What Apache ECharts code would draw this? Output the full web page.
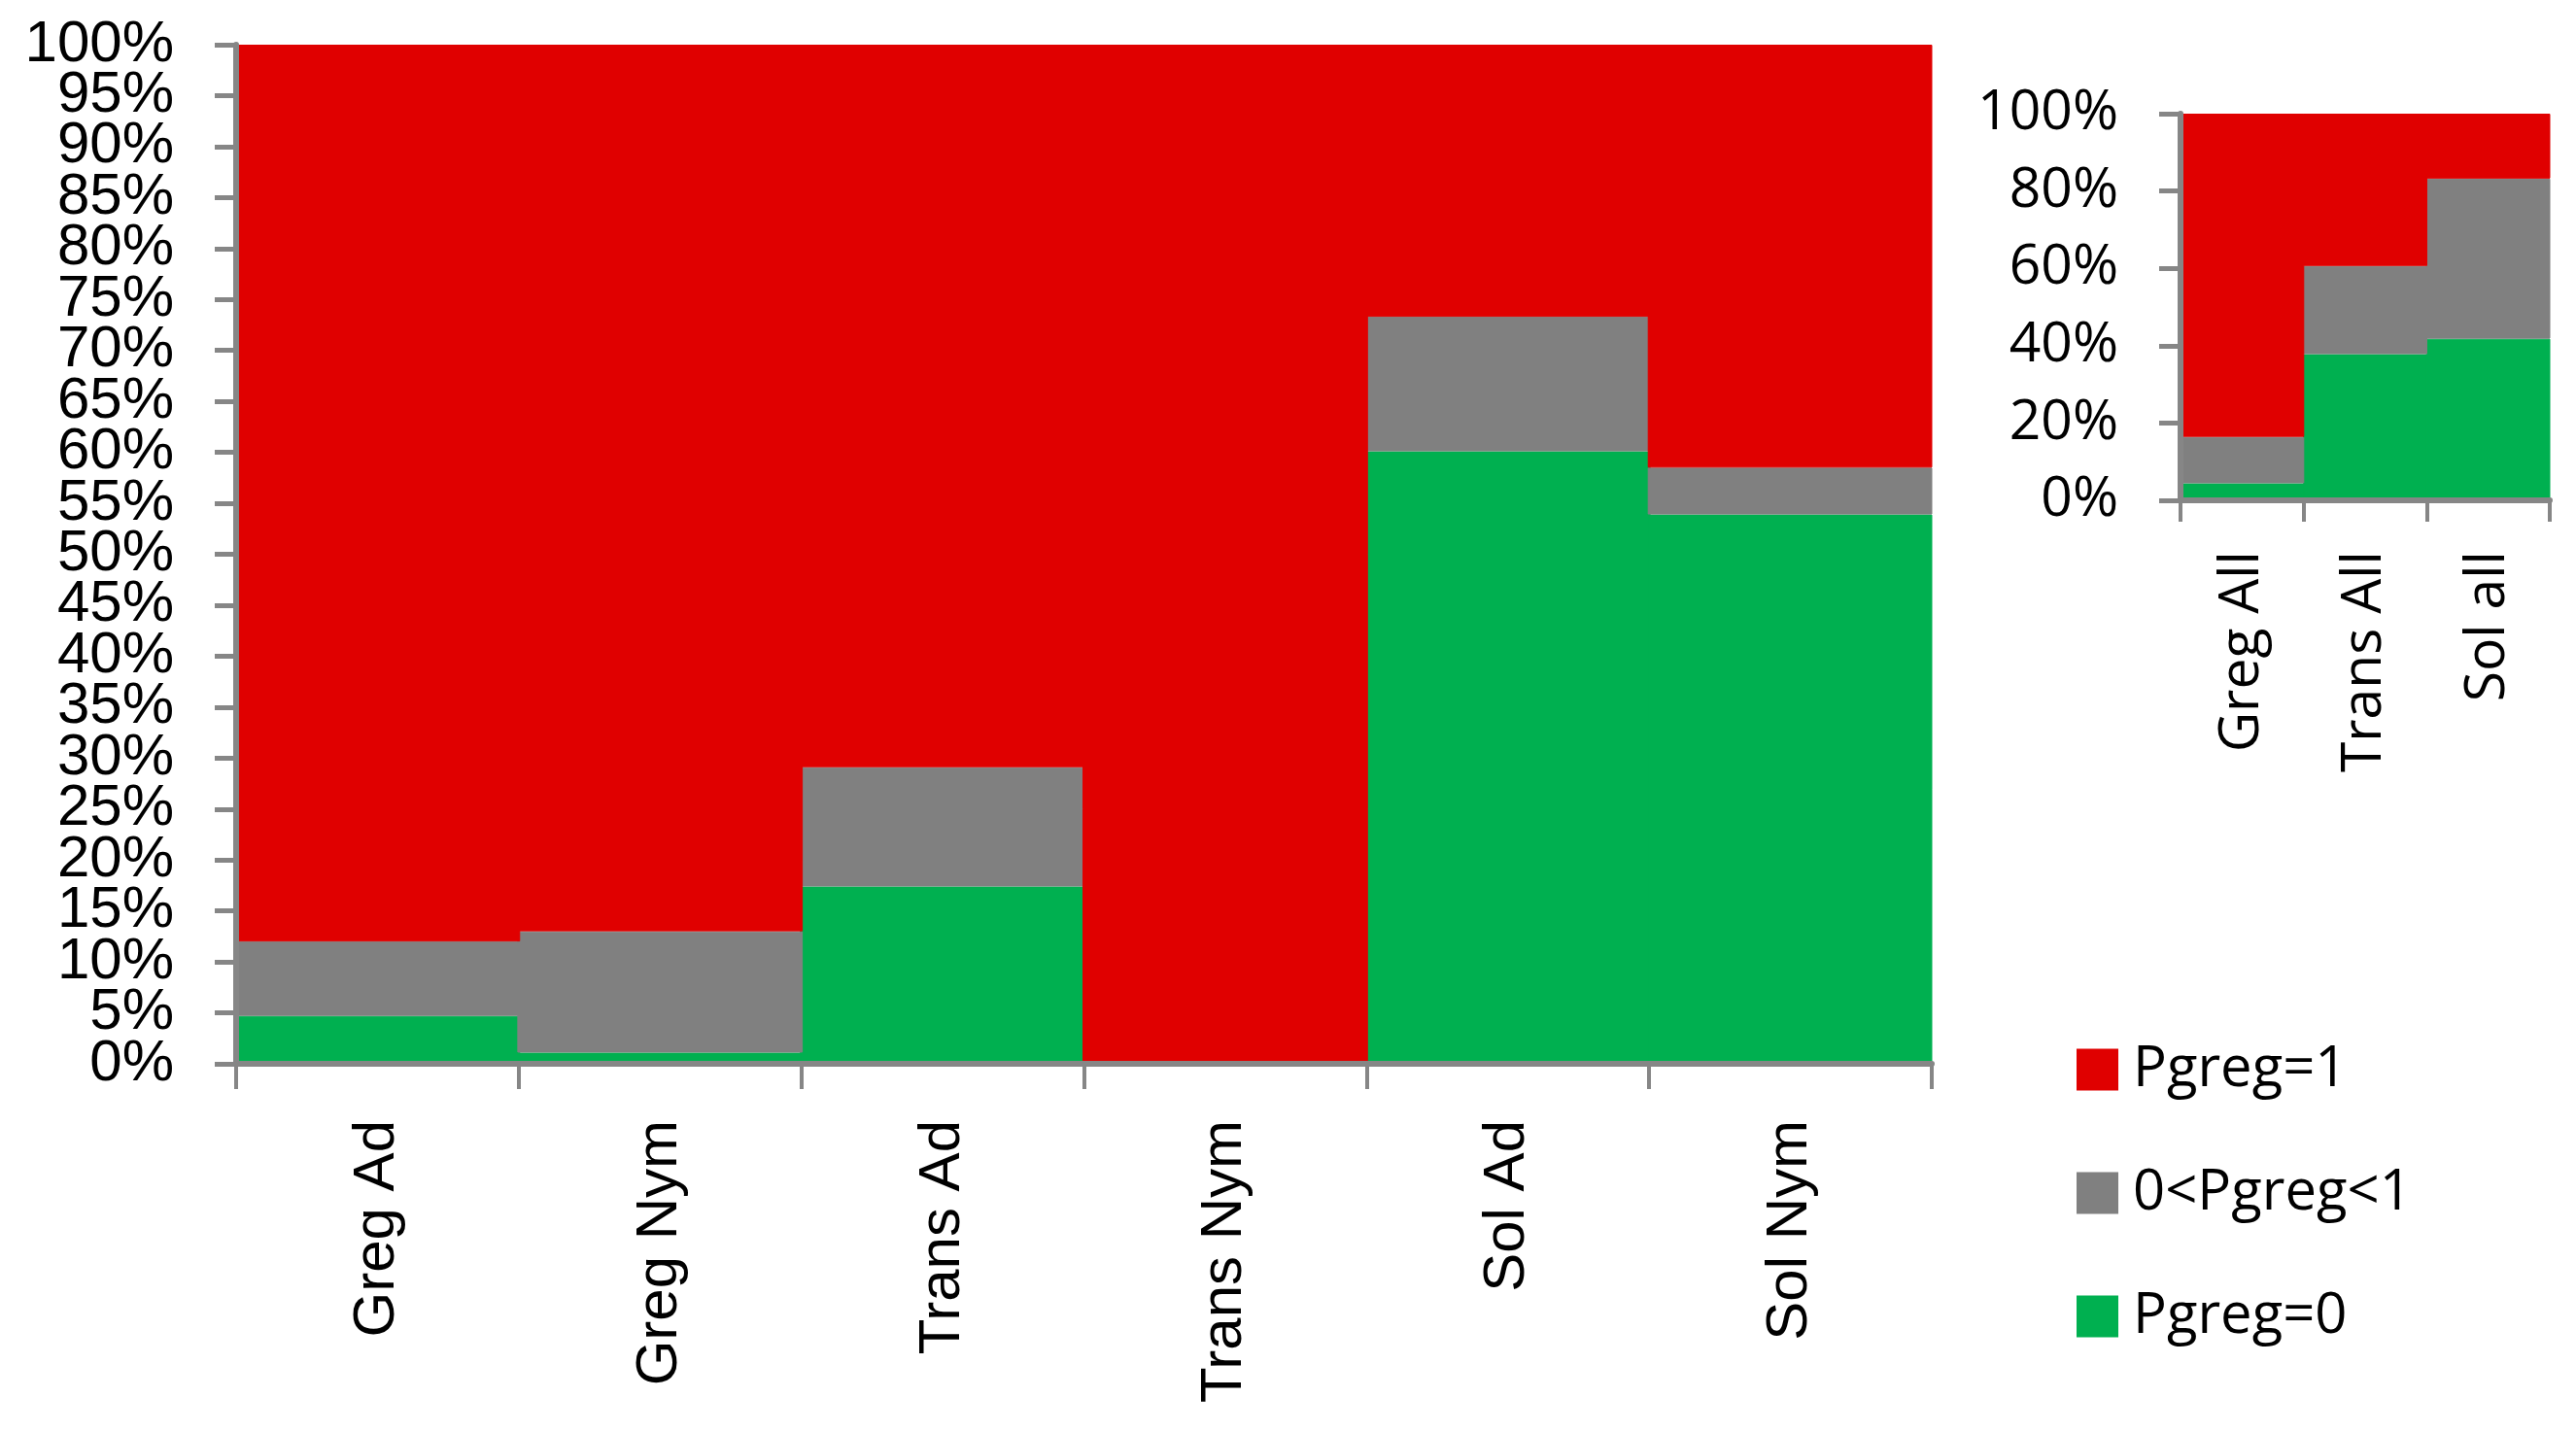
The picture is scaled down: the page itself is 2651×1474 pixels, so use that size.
<!DOCTYPE html>
<html>
<head>
<meta charset="utf-8">
<title>Pgreg</title>
<script src="https://cdn.jsdelivr.net/npm/echarts@6/dist/echarts.min.js"></script>
<style>
  html, body { margin: 0; padding: 0; background: #fff; }
  #chart { width: 2651px; height: 1474px; }
</style>
</head>
<body>
<div id="chart"></div>
<script>
// main chart
var categories = ['Greg Ad', 'Greg Nym', 'Trans Ad', 'Trans Nym', 'Sol Ad', 'Sol Nym']
var pgreg0 = [4.7, 1.1, 17.4, 0, 60.1, 53.9]
var pgregMid = [7.3, 11.9, 11.7, 0, 13.2, 4.6]
var pgreg1 = [88.0, 87.0, 70.9, 100, 26.7, 41.5]

// small chart on the right
var insetCategories = ['Greg All', 'Trans All', 'Sol all']
var insetPgreg0 = [4.4, 37.8, 41.8]
var insetPgregMid = [12.0, 22.8, 41.4]
var insetPgreg1 = [83.6, 39.4, 16.8]

var names = ['Pgreg=1', '0<Pgreg<1', 'Pgreg=0']
var colors = { 'Pgreg=1': '#e00000', '0<Pgreg<1': '#808080', 'Pgreg=0': '#00b050' }
var axisGray = '#868686'

var chart = echarts.init(document.getElementById('chart'))

function bar(name, data, xIdx, yIdx, stack) {
  return {
    name: name,
    type: 'bar',
    stack: stack,
    xAxisIndex: xIdx,
    yAxisIndex: yIdx,
    barWidth: '101%',
    color: colors[name],
    itemStyle: { color: colors[name], borderColor: colors[name], borderWidth: 1 },
    emphasis: { disabled: true },
    data: data
  }
}

// main y axis: labels are crowded, so the 10s and the 5s go on two axes
// (otherwise echarts drops 5% and 95%)
function mainY(show, odd) {
  return {
    gridIndex: 0,
    type: 'value',
    position: 'left',
    offset: 0,
    min: 0,
    max: 100,
    interval: 5,
    z: 5,
    axisLine: { show: show, lineStyle: { color: axisGray, width: 6 } },
    axisTick: { show: show, inside: false, length: 22, lineStyle: { color: axisGray, width: 5 } },
    splitLine: { show: false },
    axisLabel: {
      formatter: function (v) {
        return (v % 10 === 0) !== odd ? v + '%' : ''
      },
      margin: 64,
      showMinLabel: true,
      showMaxLabel: true,
      color: '#000',
      fontFamily: 'Liberation Sans',
      fontSize: 60
    }
  }
}

var option = {
  backgroundColor: '#fff',
  animation: false,
  legend: {
    orient: 'vertical',
    left: 2132,
    top: 1067,
    itemWidth: 41,
    itemHeight: 41,
    itemGap: 69,
    icon: 'rect',
    data: names,
    textStyle: {
      fontFamily: 'Open Sans',
      fontSize: 58,
      lineHeight: 58,
      color: '#000',
      padding: [0, 0, 0, 11]
    }
  },
  grid: [
    { left: 243, top: 46, width: 1745, height: 1049 },
    { left: 2244, top: 117, width: 380, height: 398 }
  ],
  xAxis: [
    {
      gridIndex: 0,
      type: 'category',
      data: categories,
      z: 5,
      splitLine: { show: false },
      axisLine: { show: true, lineStyle: { color: axisGray, width: 6 } },
      axisTick: { show: true, inside: false, interval: 0, length: 26, lineStyle: { color: axisGray, width: 4 } },
      axisLabel: {
        rotate: 90,
        margin: 58,
        interval: 0,
        color: '#000',
        fontFamily: 'Liberation Sans',
        fontSize: 60
      }
    },
    {
      gridIndex: 1,
      type: 'category',
      data: insetCategories,
      z: 5,
      splitLine: { show: false },
      axisLine: { show: true, lineStyle: { color: axisGray, width: 6 } },
      axisTick: { show: true, inside: false, interval: 0, length: 22, lineStyle: { color: axisGray, width: 4 } },
      axisLabel: {
        rotate: 90,
        margin: 52,
        interval: 0,
        color: '#000',
        fontFamily: 'Open Sans',
        fontSize: 57
      }
    }
  ],
  yAxis: [
    mainY(true, false),
    mainY(false, true),
    {
      gridIndex: 1,
      type: 'value',
      min: 0,
      max: 100,
      interval: 20,
      z: 5,
      axisLine: { show: true, lineStyle: { color: axisGray, width: 6 } },
      axisTick: { show: true, inside: false, length: 22, lineStyle: { color: axisGray, width: 5 } },
      splitLine: { show: false },
      axisLabel: {
        formatter: '{value}%',
        margin: 64,
        showMinLabel: true,
        showMaxLabel: true,
        color: '#000',
        fontFamily: 'Open Sans',
        fontSize: 57
      }
    }
  ],
  series: [
    bar('Pgreg=0', pgreg0, 0, 0, 'main'),
    bar('0<Pgreg<1', pgregMid, 0, 0, 'main'),
    bar('Pgreg=1', pgreg1, 0, 0, 'main'),
    bar('Pgreg=0', insetPgreg0, 1, 2, 'inset'),
    bar('0<Pgreg<1', insetPgregMid, 1, 2, 'inset'),
    bar('Pgreg=1', insetPgreg1, 1, 2, 'inset')
  ]
}

chart.setOption(option)
</script>
</body>
</html>
